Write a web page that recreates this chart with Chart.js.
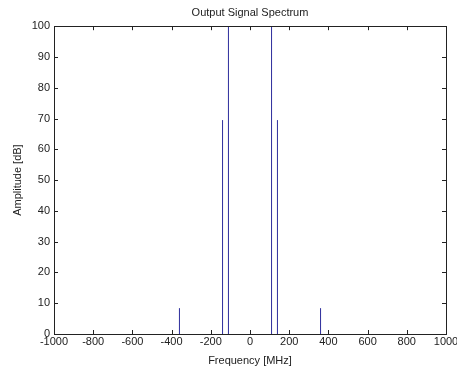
<!DOCTYPE html>
<html>
<head>
<meta charset="utf-8">
<script src="https://cdn.jsdelivr.net/npm/chart.js@4.4.1/dist/chart.umd.min.js"></script>
<style>
  html, body { margin: 0; padding: 0; background: #fff; }
  #wrap { width: 457px; height: 374px; }
</style>
</head>
<body>
<div id="wrap"><canvas id="spectrum" width="457" height="374"></canvas></div>
<script>
// spectral lines of the output signal
const freqMHz = [-360, -140, -110, 110, 140, 360];
const amplitudeDb = [8.4, 69.5, 100, 100, 69.5, 8.4];

const xRange = [-1000, 1000];
const yRange = [0, 100];
const xStep = 200;
const yStep = 10;

const FONT = "'Liberation Sans', Arial, Helvetica, sans-serif";
const INK = "#222";

// each stem is a vertical segment from 0 up to its amplitude, null breaks the line
const stemPoints = [];
freqMHz.forEach((f, i) => {
  stemPoints.push({ x: f, y: 0 });
  stemPoints.push({ x: f, y: amplitudeDb[i] });
  stemPoints.push({ x: f, y: null });
});

// box around the plot with matlab-style inward ticks
const boxTicks = {
  id: "boxTicks",
  afterDatasetsDraw(chart) {
    const { ctx, chartArea: a, scales } = chart;
    const len = 4;
    ctx.save();
    ctx.strokeStyle = INK;
    ctx.lineWidth = 1;
    ctx.beginPath();
    scales.x.ticks.forEach((t) => {
      const px = Math.round(scales.x.getPixelForValue(t.value)) + 0.5;
      ctx.moveTo(px, a.bottom);
      ctx.lineTo(px, a.bottom - len);
      ctx.moveTo(px, a.top);
      ctx.lineTo(px, a.top + len);
    });
    scales.y.ticks.forEach((t) => {
      const py = Math.round(scales.y.getPixelForValue(t.value)) + 0.5;
      ctx.moveTo(a.left, py);
      ctx.lineTo(a.left + len, py);
      ctx.moveTo(a.right, py);
      ctx.lineTo(a.right - len, py);
    });
    ctx.stroke();
    ctx.strokeRect(Math.round(a.left) + 0.5, Math.round(a.top) + 0.5,
      Math.round(a.right - a.left), Math.round(a.bottom - a.top));
    ctx.restore();
  },
};

new Chart(document.getElementById("spectrum"), {
  type: "line",
  data: {
    datasets: [
      {
        data: stemPoints,
        borderColor: "#2d2d9c",
        borderWidth: 1,
        pointRadius: 0,
        spanGaps: false,
        fill: false,
      },
    ],
  },
  options: {
    responsive: false,
    animation: false,
    layout: { padding: 0 },
    plugins: {
      legend: { display: false },
      tooltip: { enabled: false },
      title: {
        display: true,
        text: "Output Signal Spectrum",
        fullSize: false,
        color: INK,
        font: { family: FONT, size: 11, weight: "normal" },
        padding: { top: 6, bottom: 7 },
      },
    },
    scales: {
      x: {
        type: "linear",
        min: xRange[0],
        max: xRange[1],
        grid: { display: false, drawTicks: false },
        border: { display: false },
        afterFit: (s) => {
          s.height = 40;
          s.paddingLeft = 0;
          s.paddingRight = 11;
        },
        ticks: {
          stepSize: xStep,
          padding: 1,
          maxRotation: 0,
          color: INK,
          font: { family: FONT, size: 11 },
          callback: (v) => String(v),
        },
        title: {
          display: true,
          text: "Frequency [MHz]",
          color: INK,
          font: { family: FONT, size: 11 },
          padding: { top: 0, bottom: 6 },
        },
      },
      y: {
        type: "linear",
        min: yRange[0],
        max: yRange[1],
        grid: { display: false, drawTicks: false },
        border: { display: false },
        afterFit: (s) => { s.width = 54; },
        ticks: {
          stepSize: yStep,
          padding: 4,
          color: INK,
          font: { family: FONT, size: 11 },
          callback: (v) => String(v),
        },
        title: {
          display: true,
          text: "Amplitude [dB]",
          color: INK,
          font: { family: FONT, size: 11 },
          padding: { top: 11, bottom: 0 },
        },
      },
    },
  },
  plugins: [boxTicks],
});
</script>
</body>
</html>
